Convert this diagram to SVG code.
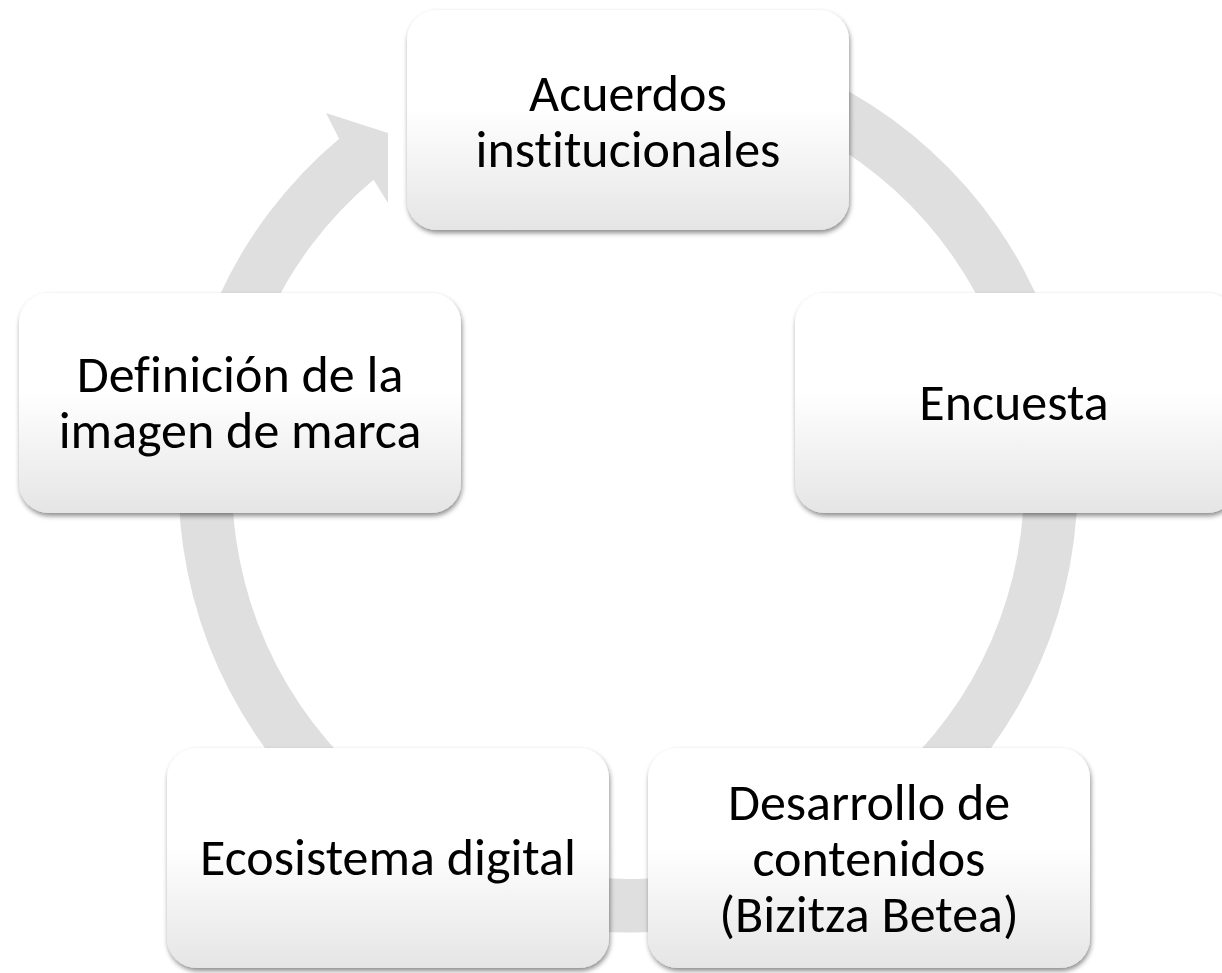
<svg xmlns="http://www.w3.org/2000/svg" width="1222" height="973" viewBox="0 0 1222 973">
  <defs>
    <linearGradient id="boxFill" x1="0" y1="0" x2="0" y2="1">
      <stop offset="0" stop-color="#ffffff"/>
      <stop offset="0.45" stop-color="#ffffff"/>
      <stop offset="1" stop-color="#e5e5e5"/>
    </linearGradient>
    <filter id="shadow" x="-10%" y="-10%" width="120%" height="125%">
      <feDropShadow dx="1" dy="3" stdDeviation="2.5" flood-color="#000" flood-opacity="0.45"/>
    </filter>
  </defs>
  <style>
    .box { fill: url(#boxFill); filter: url(#shadow); }
    .lbl { font-family: Carlito, Lato, "Liberation Sans", sans-serif; font-size: 52px; fill: #000; text-anchor: middle; font-variant-ligatures: none; font-feature-settings: "liga" 0, "clig" 0; }
    .ring { fill: #dfdfdf; }
  </style>
  <rect width="1222" height="973" fill="#ffffff"/>
  <g id="connectors">
    <path class="ring" d="M 706.06 40.33 A 449.5 449.5 0 1 1 339.1 138.7 L 326 113 L 388 133 L 388 203 L 373.5 179.7 A 396 396 0 1 0 696.8 93.0 Z"/>
  </g>
  <g id="node-acuerdos">
    <rect class="box" x="407" y="10" width="442" height="220" rx="30"/>
    <text class="lbl" x="628" y="111">Acuerdos</text>
    <text class="lbl" x="628" y="167">institucionales</text>
  </g>
  <g id="node-encuesta">
    <rect class="box" x="795" y="293" width="442" height="220" rx="30"/>
    <text class="lbl" x="1014" y="420">Encuesta</text>
  </g>
  <g id="node-desarrollo">
    <rect class="box" x="648" y="748" width="442" height="220" rx="30"/>
    <text class="lbl" x="869" y="820">Desarrollo de</text>
    <text class="lbl" x="869" y="876">contenidos</text>
    <text class="lbl" x="869" y="932">(Bizitza Betea)</text>
  </g>
  <g id="node-ecosistema">
    <rect class="box" x="167" y="748" width="442" height="220" rx="30"/>
    <text class="lbl" x="388" y="875">Ecosistema digital</text>
  </g>
  <g id="node-definicion">
    <rect class="box" x="19" y="293" width="442" height="220" rx="30"/>
    <text class="lbl" x="240" y="392">Definición de la</text>
    <text class="lbl" x="240" y="448">imagen de marca</text>
  </g>
</svg>
